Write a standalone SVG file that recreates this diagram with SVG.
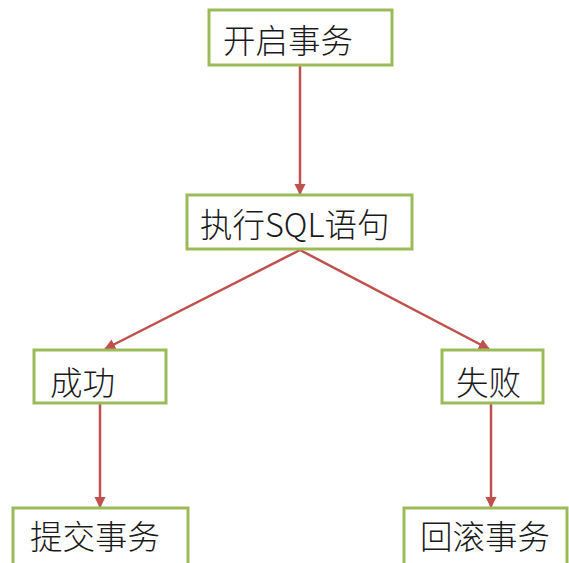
<svg xmlns="http://www.w3.org/2000/svg" width="569" height="563" viewBox="0 0 569 563">
<defs>
<marker id="ah" viewBox="0 0 10 10" refX="9" refY="5" markerWidth="4.5" markerHeight="4.5" orient="auto" markerUnits="strokeWidth">
<path d="M0,0 L10,5 L0,10 z" fill="#C0504D"/>
</marker>
<style>
.box{fill:#fff;stroke:#9BBB59;stroke-width:3}
.lbl{font-family:"Noto Sans CJK SC","Liberation Sans",sans-serif;font-size:32.5px;font-weight:300;fill:#1a1a1a;dominant-baseline:central}
.con{stroke:#C0504D;stroke-width:2.5;fill:none;marker-end:url(#ah)}
</style>
</defs>
<rect width="569" height="563" fill="#fff"/>
<g id="connectors">
<line class="con" x1="300" y1="66" x2="300" y2="194"/>
<line class="con" x1="300" y1="250" x2="105" y2="349"/>
<line class="con" x1="300" y1="250" x2="489" y2="349"/>
<line class="con" x1="100" y1="404" x2="100" y2="507"/>
<line class="con" x1="491" y1="404" x2="491" y2="507"/>
</g>
<g id="n1"><rect class="box" x="209" y="10" width="183" height="55"/><text class="lbl" x="223" y="38">开启事务</text></g>
<g id="n2"><rect class="box" x="187" y="195" width="225" height="54"/><text class="lbl" x="200" y="222">执行SQL语句</text></g>
<g id="n3"><rect class="box" x="34" y="350" width="132" height="53"/><text class="lbl" x="50" y="380">成功</text></g>
<g id="n4"><rect class="box" x="442" y="350" width="101" height="53"/><text class="lbl" x="456" y="380">失败</text></g>
<g id="n5"><rect class="box" x="13" y="508" width="175" height="60"/><text class="lbl" x="30" y="534">提交事务</text></g>
<g id="n6"><rect class="box" x="404" y="508" width="163" height="60"/><text class="lbl" x="420" y="534">回滚事务</text></g>
</svg>
